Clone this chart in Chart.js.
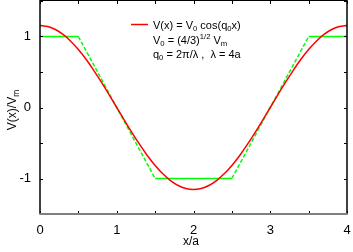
<!DOCTYPE html>
<html>
<head>
<meta charset="utf-8">
<script src="https://cdn.jsdelivr.net/npm/chart.js@4.4.1/dist/chart.umd.min.js"></script>
<style>
html,body{margin:0;padding:0;background:#fff;}
#wrap{width:353px;height:252px;}
</style>
</head>
<body>
<div id="wrap"><canvas id="c" width="353" height="252"></canvas></div>
<script>
// x/a positions for the cosine curve
const cosX = [0,0.1,0.2,0.3,0.4,0.5,0.6,0.7,0.8,0.9,1.0,1.1,1.2,1.3,1.4,1.5,1.6,1.7,1.8,1.9,2.0,
  2.1,2.2,2.3,2.4,2.5,2.6,2.7,2.8,2.9,3.0,3.1,3.2,3.3,3.4,3.5,3.6,3.7,3.8,3.9,4.0];
// V(x)/Vm values
const cosY = [1.155,1.140,1.098,1.029,0.934,0.816,0.679,0.524,0.357,0.181,0.000,
  -0.181,-0.357,-0.524,-0.679,-0.816,-0.934,-1.029,-1.098,-1.140,-1.155,
  -1.140,-1.098,-1.029,-0.934,-0.816,-0.679,-0.524,-0.357,-0.181,0.000,
  0.181,0.357,0.524,0.679,0.816,0.934,1.029,1.098,1.140,1.155];
// green trapezoid profile
const trapX = [0,0.5,1.5,2.5,3.5,4];
const trapY = [1,1,-1,-1,1,1];
// axis ranges and tick labels
const xRange = [0,4];
const yRange = [-1.5,1.5];
const xTickLabels = ['0','1','2','3','4'];
const yTickLabels = ['-1','0','1'];

const FONT = '"Liberation Sans", Arial, Helvetica, sans-serif';

function richWidth(ctx, parts, size){
  let w = 0;
  for (const p of parts){
    const s = p[1] === 'n' ? size : size*0.7;
    ctx.font = s + 'px ' + FONT;
    w += ctx.measureText(p[0]).width;
  }
  return w;
}
function drawRich(ctx, parts, x, y, size){
  for (const p of parts){
    const s = p[1] === 'n' ? size : size*0.7;
    ctx.font = s + 'px ' + FONT;
    let dy = 0;
    if (p[1] === 'sub') dy = size*0.25;
    if (p[1] === 'sup') dy = -size*0.42;
    ctx.fillText(p[0], x, y + dy);
    x += ctx.measureText(p[0]).width;
  }
  return x;
}

const deco = {
  id: 'deco',
  afterDraw(chart){
    const ctx = chart.ctx;
    const a = chart.chartArea;
    const xs = chart.scales.x, ys = chart.scales.y;
    ctx.save();
    // ticks (inward)
    ctx.strokeStyle = '#000';
    ctx.lineWidth = 1;
    ctx.beginPath();
    for (const t of xs.ticks){
      const px = Math.round(xs.getPixelForValue(t.value)) + 0.5;
      ctx.moveTo(px, a.bottom); ctx.lineTo(px, a.bottom - 3);
      ctx.moveTo(px, a.top); ctx.lineTo(px, a.top + 3);
    }
    for (const t of ys.ticks){
      const py = Math.round(ys.getPixelForValue(t.value)) + 0.5;
      ctx.moveTo(a.left, py); ctx.lineTo(a.left + 3, py);
      ctx.moveTo(a.right, py); ctx.lineTo(a.right - 3, py);
    }
    ctx.stroke();
    // frame
    ctx.strokeStyle = '#000';
    ctx.lineWidth = 1;
    ctx.beginPath();
    ctx.moveTo(a.left, a.top - 0.5); ctx.lineTo(a.right, a.top - 0.5);
    ctx.stroke();
    ctx.lineWidth = 1.5;
    ctx.beginPath();
    ctx.moveTo(a.left, a.bottom); ctx.lineTo(a.left, a.top - 1);
    ctx.moveTo(a.right, a.bottom); ctx.lineTo(a.right, a.top - 1);
    ctx.stroke();
    ctx.strokeStyle = '#808080';
    ctx.lineWidth = 2;
    ctx.beginPath();
    ctx.moveTo(a.left - 0.75, a.bottom); ctx.lineTo(a.right + 0.75, a.bottom);
    ctx.stroke();

    // legend
    ctx.fillStyle = '#000';
    ctx.textBaseline = 'alphabetic';
    ctx.textAlign = 'left';
    ctx.strokeStyle = '#ff0000';
    ctx.lineWidth = 1.5;
    ctx.beginPath(); ctx.moveTo(131, 24.5); ctx.lineTo(148, 24.5); ctx.stroke();
    const lx = 153, fs = 11;
    drawRich(ctx, [['V(x) = V','n'],['0','sub'],[' cos(q','n'],['0','sub'],['x)','n']], lx, 28.5, fs);
    drawRich(ctx, [['V','n'],['0','sub'],[' = (4/3)','n'],['1/2','sup'],[' V','n'],['m','sub']], lx, 43.5, fs);
    drawRich(ctx, [['q','n'],['0','sub'],[' = 2\u03c0/\u03bb ,  \u03bb = 4a','n']], lx, 57.5, fs);

    // x title
    ctx.font = '12px ' + FONT;
    ctx.textAlign = 'center';
    ctx.fillText('x/a', 191, 245);

    // y title
    ctx.textAlign = 'left';
    const yParts = [['V(x)/V','n'],['m','sub']];
    const w = richWidth(ctx, yParts, 12);
    ctx.translate(15.5, 110 + w/2);
    ctx.rotate(-Math.PI/2);
    drawRich(ctx, yParts, 0, 0, 12);
    ctx.restore();
  }
};

const tickCb = labels => (v) => {
  const s = String(v);
  return labels.includes(s) ? s : '';
};
const zeroPad = s => { s.paddingTop = 0; s.paddingBottom = 0; s.paddingLeft = 0; s.paddingRight = 0; };

new Chart(document.getElementById('c'), {
  type: 'line',
  data: {
    datasets: [
      {
        data: cosX.map((x,i) => ({x, y: cosY[i]})),
        borderColor: '#ff0000',
        borderWidth: 1.5,
        pointRadius: 0,
        tension: 0.3,
        fill: false
      },
      {
        data: trapX.map((x,i) => ({x, y: trapY[i]})),
        borderColor: '#00ff00',
        borderWidth: 1.5,
        pointRadius: 0,
        tension: 0,
        fill: false,
        segment: {
          borderDash: ctx => (ctx.p0.parsed.y !== ctx.p1.parsed.y ? [4,2] : [])
        }
      }
    ]
  },
  options: {
    responsive: false,
    devicePixelRatio: 1,
    animation: false,
    layout: { autoPadding: false, padding: { left: 0, right: 6, top: 1, bottom: 0 } },
    plugins: { legend: { display: false }, tooltip: { enabled: false }, title: { display: false } },
    scales: {
      x: {
        type: 'linear',
        min: xRange[0], max: xRange[1],
        grid: { display: false, drawTicks: false },
        border: { display: false },
        ticks: {
          stepSize: 0.5, autoSkip: false, maxRotation: 0,
          padding: 9, color: '#000',
          font: { family: FONT, size: 13 },
          callback: tickCb(xTickLabels)
        },
        afterFit: s => { s.height = 38; zeroPad(s); }
      },
      y: {
        type: 'linear',
        min: yRange[0], max: yRange[1],
        grid: { display: false, drawTicks: false },
        border: { display: false },
        ticks: {
          stepSize: 0.5, autoSkip: false,
          padding: 9, color: '#000',
          font: { family: FONT, size: 13 },
          callback: tickCb(yTickLabels)
        },
        afterFit: s => { s.width = 40; zeroPad(s); }
      }
    }
  },
  plugins: [deco]
});
</script>
</body>
</html>
